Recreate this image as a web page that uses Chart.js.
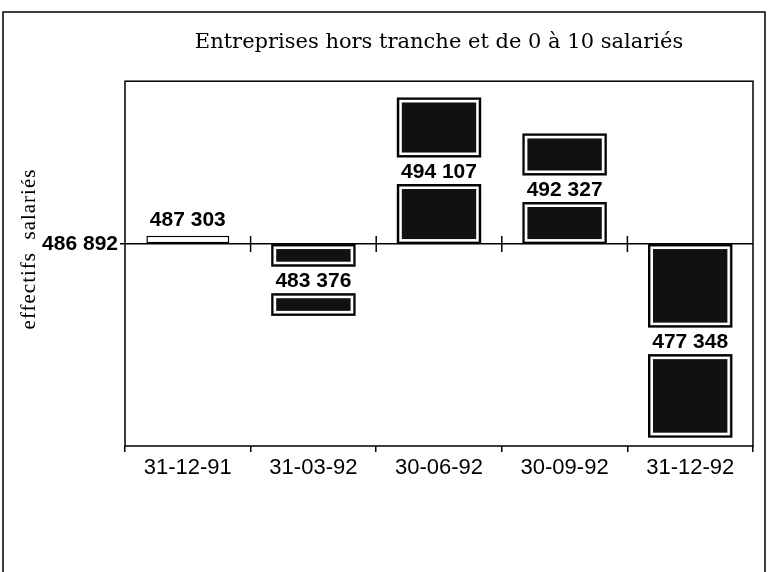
<!DOCTYPE html>
<html>
<head>
<meta charset="utf-8">
<script src="https://cdn.jsdelivr.net/npm/chart.js@4/dist/chart.umd.min.js"></script>
<style>
  html, body { margin: 0; padding: 0; background: #fff; }
  #wrap { width: 768px; height: 572px; }
</style>
</head>
<body>
<div id="wrap"><canvas id="effectifsChart"></canvas></div>
<script>
// données
const categories = ['31-12-91', '31-03-92', '30-06-92', '30-09-92', '31-12-92'];
const effectifs = [487303, 483376, 494107, 492327, 477348];
const reference = 486892;
const yTicks = [486892];
const barFills = ['#ffffff', '#111111', '#111111', '#111111', '#111111'];

function formatNombre(n) {
    return String(n).replace(/\B(?=(\d{3})+(?!\d))/g, ' ');
}

var numFont = "'Liberation Sans', Arial, sans-serif";
var serifFont = "'DejaVu Serif', 'Liberation Serif', serif";

// cadre, croix sur la ligne de base, étiquettes des barres
var decorPlugin = {
    id: 'decor',
    beforeDraw: function(chart) {
        var ctx = chart.ctx;
        ctx.save();
        ctx.fillStyle = '#fff';
        ctx.fillRect(0, 0, chart.width, chart.height);
        ctx.restore();
    },
    afterDatasetsDraw: function(chart) {
        var ctx = chart.ctx;
        var meta = chart.getDatasetMeta(0);
        var gap = 28;
        ctx.save();
        meta.data.forEach(function(bar, i) {
            var p = bar.getProps(['x', 'y', 'base', 'width'], true);
            var left = p.x - p.width / 2;
            var top = Math.min(p.y, p.base);
            var bottom = Math.max(p.y, p.base);
            var h = bottom - top;
            var label = formatNombre(effectifs[i]);
            ctx.font = "bold 21px " + numFont;
            ctx.fillStyle = '#000';
            ctx.textAlign = 'center';
            if (h > gap + 10) {
                var mid = (top + bottom) / 2;
                var g1 = mid - gap / 2, g2 = mid + gap / 2;
                ctx.fillStyle = '#fff';
                ctx.fillRect(left - 2, g1, p.width + 4, gap);
                // deux boîtes, avec un liseré blanc intérieur
                [[top, g1], [g2, bottom]].forEach(function(b) {
                    ctx.lineWidth = 2.5;
                    ctx.strokeStyle = '#fff';
                    ctx.strokeRect(left + 3, b[0] + 3, p.width - 6, b[1] - b[0] - 6);
                    ctx.lineWidth = 1.5;
                    ctx.strokeStyle = '#000';
                    ctx.strokeRect(left, b[0], p.width, b[1] - b[0]);
                });
                ctx.fillStyle = '#000';
                ctx.textBaseline = 'middle';
                ctx.fillText(label, p.x, mid + 1);
            } else {
                ctx.textBaseline = 'bottom';
                ctx.fillText(label, p.x, top - 5);
            }
        });
        ctx.restore();
    },
    afterDraw: function(chart) {
        var ctx = chart.ctx;
        var a = chart.chartArea;
        var xs = chart.scales.x, ys = chart.scales.y;
        ctx.save();
        ctx.strokeStyle = '#000';
        ctx.lineWidth = 1.5;
        ctx.strokeRect(3, 12, chart.width - 6, chart.height + 10);
        ctx.strokeRect(a.left, a.top, a.right - a.left, a.bottom - a.top);
        // petites croix entre les trimestres
        var yb = ys.getPixelForValue(reference);
        for (var i = 0; i < categories.length - 1; i++) {
            var xb = (xs.getPixelForValue(i) + xs.getPixelForValue(i + 1)) / 2;
            ctx.beginPath();
            ctx.moveTo(xb, yb - 8);
            ctx.lineTo(xb, yb + 8);
            ctx.stroke();
        }
        // titre de l'axe vertical
        ctx.translate(29, 249);
        ctx.rotate(-Math.PI / 2);
        ctx.font = "21px 'Liberation Serif', serif";
        ctx.letterSpacing = '1px';
        ctx.fillStyle = '#000';
        ctx.textAlign = 'center';
        ctx.textBaseline = 'middle';
        ctx.fillText('effectifs  salariés', 0, 0);
        ctx.restore();
    }
};

var ctx = document.getElementById('effectifsChart').getContext('2d');
var chart = new Chart(ctx, {
    type: 'bar',
    data: {
        labels: categories,
        datasets: [{
            label: 'effectifs salariés',
            data: effectifs,
            base: reference,
            backgroundColor: barFills,
            borderColor: '#000',
            borderWidth: 1.5,
            borderSkipped: false,
            barPercentage: 0.66,
            categoryPercentage: 1
        }]
    },
    options: {
        responsive: true,
        maintainAspectRatio: false,
        animation: false,
        layout: {
            padding: { left: 0, right: 15, top: 0, bottom: 0 }
        },
        plugins: {
            legend: { display: false },
            tooltip: { enabled: false },
            title: {
                display: true,
                fullSize: false,
                text: 'Entreprises hors tranche et de 0 à 10 salariés',
                color: '#000',
                font: { family: serifFont, size: 21, weight: 'normal' },
                padding: { top: 30, bottom: 26 }
            }
        },
        scales: {
            y: {
                min: 476900,
                max: 494950,
                afterBuildTicks: function(s) {
                    s.ticks = yTicks.map(function(v) { return { value: v }; });
                },
                afterFit: function(s) { s.width = 125; },
                border: { display: false },
                grid: {
                    color: '#000',
                    lineWidth: 1.5,
                    tickLength: 5,
                    drawOnChartArea: true
                },
                ticks: {
                    color: '#000',
                    padding: 2,
                    font: { family: numFont, size: 21, weight: 'bold' },
                    callback: function(v) { return formatNombre(v); }
                }
            },
            x: {
                offset: true,
                afterFit: function(s) { s.height = 126; },
                border: { display: false },
                grid: {
                    color: '#000',
                    lineWidth: 1.5,
                    drawOnChartArea: false,
                    tickLength: 6
                },
                ticks: {
                    color: '#000',
                    padding: 3,
                    font: { family: numFont, size: 22 }
                }
            }
        }
    },
    plugins: [decorPlugin]
});
</script>
</body>
</html>
